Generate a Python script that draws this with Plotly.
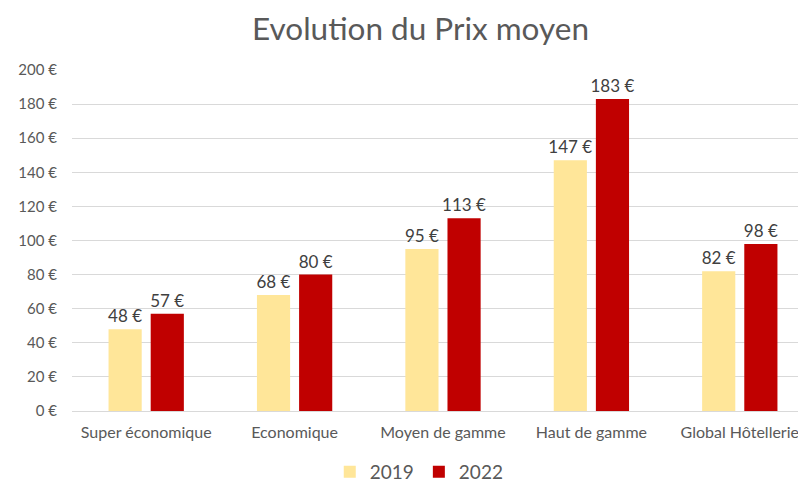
import plotly.graph_objects as go

categories = ["Super économique", "Economique", "Moyen de gamme", "Haut de gamme", "Global Hôtellerie"]
prix_2019 = [48, 68, 95, 147, 82]
prix_2022 = [57, 80, 113, 183, 98]
y_ticks = [0, 20, 40, 60, 80, 100, 120, 140, 160, 180, 200]
y_tick_labels = [f"{v} €" for v in y_ticks]

W, H = 798, 483
L, R, T, B = 71.5, 0, 69.5, 71.5
FONT = "Lato, 'Liberation Sans', sans-serif"
GREY = "#595959"

fig = go.Figure()
for name, vals, color in [("2019", prix_2019, "#FFE699"), ("2022", prix_2022, "#C00000")]:
    fig.add_trace(go.Bar(
        name=name, x=categories, y=vals, marker=dict(color=color, line=dict(width=0)),
        text=[f"{v} €" for v in vals], texttemplate="%{text}", textposition="outside",
        constraintext="none", cliponaxis=False, hoverinfo="x+y",
        textfont=dict(size=17, color="#404040", family=FONT),
    ))

plot_w = W - L - R
plot_h = H - T - B
slot = 148.5
x_max = plot_w / slot - 0.5

fig.update_layout(
    width=W, height=H,
    margin=dict(l=L, r=R, t=T, b=B, pad=0, autoexpand=False),
    paper_bgcolor="white", plot_bgcolor="white",
    font=dict(family=FONT, color=GREY),
    barmode="group", bargap=0.432, bargroupgap=0.213,
    showlegend=True,
    legend=dict(orientation="h", x=(419 - L) / plot_w, xanchor="center",
                yref="container", y=1 - 472 / H, yanchor="middle",
                font=dict(size=19, color=GREY, family=FONT), itemwidth=30,
                traceorder="normal"),
    annotations=[dict(text="Evolution du Prix moyen", xref="paper", yref="paper",
                      x=(420 - L) / plot_w, y=1 + (T - 27) / plot_h,
                      xanchor="center", yanchor="middle", showarrow=False,
                      font=dict(size=31.5, color=GREY, family=FONT))],
)
fig.update_xaxes(range=[-0.5, x_max], showgrid=False, showline=False, ticks="", automargin=False,
                 tickfont=dict(size=16, color=GREY, family=FONT), ticklabelstandoff=10)
fig.update_yaxes(range=[0, 200], tickvals=y_ticks, ticktext=y_tick_labels, showgrid=True,
                 gridcolor="#D9D9D9", gridwidth=1, zeroline=True, zerolinecolor="#D9D9D9",
                 zerolinewidth=1, showline=False, ticks="", ticklabelstandoff=14, automargin=False,
                 tickfont=dict(size=15, color=GREY, family=FONT))

fig.write_html("out.html", config={"displayModeBar": False},
               post_script="document.body.style.margin='0';document.body.style.overflow='hidden';")
